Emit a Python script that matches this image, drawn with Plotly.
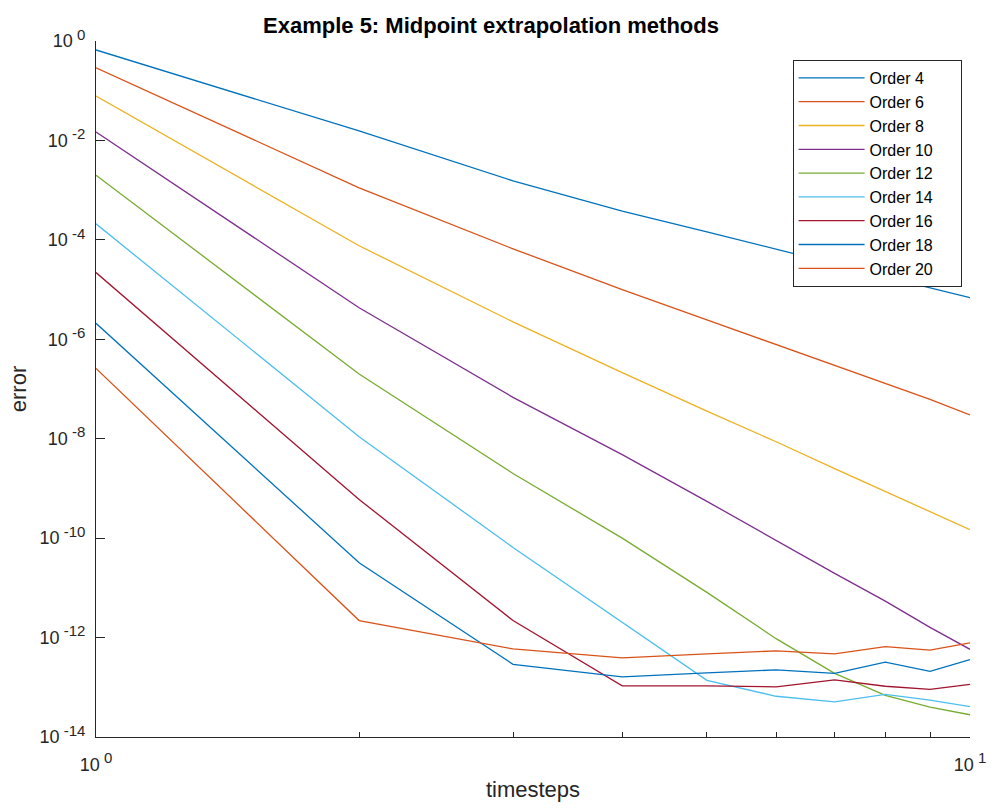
import plotly.graph_objects as go

# Number of timesteps used by each extrapolation run
timesteps = [1, 2, 3, 4, 5, 6, 7, 8, 9, 10]

# Error against timesteps for each extrapolation order
err_order4 = [0.66, 1.55e-2, 1.54e-3, 3.8e-4, 1.45e-4, 6.6e-5, 3.3e-5, 1.8e-5, 1.1e-5, 6.9e-6]
err_order6 = [0.29, 1.11e-3, 6.6e-5, 1.0e-5, 2.45e-6, 7.8e-7, 2.95e-7, 1.29e-7, 6.2e-8, 3.0e-8]
err_order8 = [7.85e-2, 7.6e-5, 2.24e-6, 2.14e-7, 3.6e-8, 8.7e-9, 2.5e-9, 8.7e-10, 3.4e-10, 1.48e-10]
err_order10 = [1.48e-2, 4.3e-6, 6.8e-8, 4.8e-9, 5.5e-10, 8.9e-11, 1.95e-11, 5.4e-12, 1.6e-12, 5.8e-13]
err_order12 = [2.0e-3, 2.0e-7, 2.0e-9, 1.0e-10, 8.1e-12, 9.5e-13, 1.9e-13, 6.9e-14, 4.0e-14, 2.8e-14]
err_order14 = [2.1e-4, 1.1e-8, 6.5e-11, 2.0e-12, 1.38e-13, 6.6e-14, 5.1e-14, 7.2e-14, 5.5e-14, 4.1e-14]
err_order16 = [2.2e-5, 6.0e-10, 2.2e-12, 1.07e-13, 1.07e-13, 1.02e-13, 1.41e-13, 1.05e-13, 9.1e-14, 1.15e-13]
err_order18 = [2.1e-6, 3.2e-11, 2.9e-13, 1.62e-13, 1.95e-13, 2.24e-13, 1.9e-13, 3.2e-13, 2.1e-13, 3.6e-13]
err_order20 = [2.6e-7, 2.2e-12, 5.9e-13, 3.9e-13, 4.7e-13, 5.4e-13, 4.7e-13, 6.6e-13, 5.6e-13, 7.8e-13]

series_names = ["Order 4", "Order 6", "Order 8", "Order 10", "Order 12",
                "Order 14", "Order 16", "Order 18", "Order 20"]
series_errors = [err_order4, err_order6, err_order8, err_order10, err_order12,
                 err_order14, err_order16, err_order18, err_order20]
colors = ["#0072BD", "#D95319", "#EDB120", "#7E2F8E", "#77AC30",
          "#4DBEEE", "#A2142F", "#0072BD", "#D95319"]

# Axis tick labels (powers of ten with a raised exponent)
x_exponents = [0, 1]
y_exponents = [0, -2, -4, -6, -8, -10, -12, -14]


def power_label(e):
    return f"10<sup><span style='font-size:15px'>\u00a0{e}</span></sup>"


x_tickvals = [10.0 ** e for e in x_exponents]
x_ticktext = [power_label(e) for e in x_exponents]
y_tickvals = [10.0 ** e for e in y_exponents]
y_ticktext = [power_label(e) for e in y_exponents]
x_minor_ticks = [2, 3, 4, 5, 6, 7, 8, 9]

FONT = "Liberation Sans, Arial, Helvetica, sans-serif"
AXIS_COLOR = "#262626"
# trailing blank space inside the legend box, right of the entry names
LEGEND_PAD = "\u00a0" * 5

fig = go.Figure()
for name, err, col in zip(series_names, series_errors, colors):
    fig.add_trace(go.Scatter(
        x=timesteps, y=err, name=name + LEGEND_PAD, mode="lines",
        line=dict(color=col, width=1.3),
    ))

fig.update_layout(
    width=998, height=810,
    margin=dict(l=96, r=20, t=41, b=72),
    paper_bgcolor="white", plot_bgcolor="white",
    font=dict(family=FONT, size=18, color=AXIS_COLOR),
    title=dict(
        text="<b>Example 5: Midpoint extrapolation methods</b>",
        font=dict(family=FONT, size=22, color="black"),
        x=0.492, xanchor="center", xref="container",
        y=1 - 25 / 810, yanchor="middle", yref="container",
    ),
    showlegend=True,
    legend=dict(
        x=0.797, y=0.9727, xanchor="left", yanchor="top",
        bgcolor="white", bordercolor=AXIS_COLOR, borderwidth=1,
        font=dict(family=FONT, size=16, color="black"),
        tracegroupgap=0, itemwidth=66,
    ),
)

fig.update_xaxes(
    type="log", range=[0, 1],
    showgrid=False, zeroline=False,
    showline=True, linecolor=AXIS_COLOR, linewidth=1,
    ticks="inside", ticklen=9, tickcolor=AXIS_COLOR, tickwidth=1,
    tickvals=x_tickvals, ticktext=x_ticktext,
    tickfont=dict(family=FONT, size=18, color=AXIS_COLOR),
    ticklabelstandoff=11,
    minor=dict(tickvals=x_minor_ticks, ticks="inside",
               ticklen=5, tickcolor=AXIS_COLOR, tickwidth=1, showgrid=False),
    title=dict(text="timesteps", font=dict(family=FONT, size=22, color=AXIS_COLOR),
               standoff=8),
)

fig.update_yaxes(
    type="log", range=[-14, 0],
    showgrid=False, zeroline=False,
    showline=True, linecolor=AXIS_COLOR, linewidth=1,
    ticks="inside", ticklen=9, tickcolor=AXIS_COLOR, tickwidth=1,
    tickvals=y_tickvals, ticktext=y_ticktext,
    tickfont=dict(family=FONT, size=18, color=AXIS_COLOR),
    ticklabelstandoff=6,
    title=dict(text="error", font=dict(family=FONT, size=22, color=AXIS_COLOR),
               standoff=6),
)

fig.write_html("out.html")
